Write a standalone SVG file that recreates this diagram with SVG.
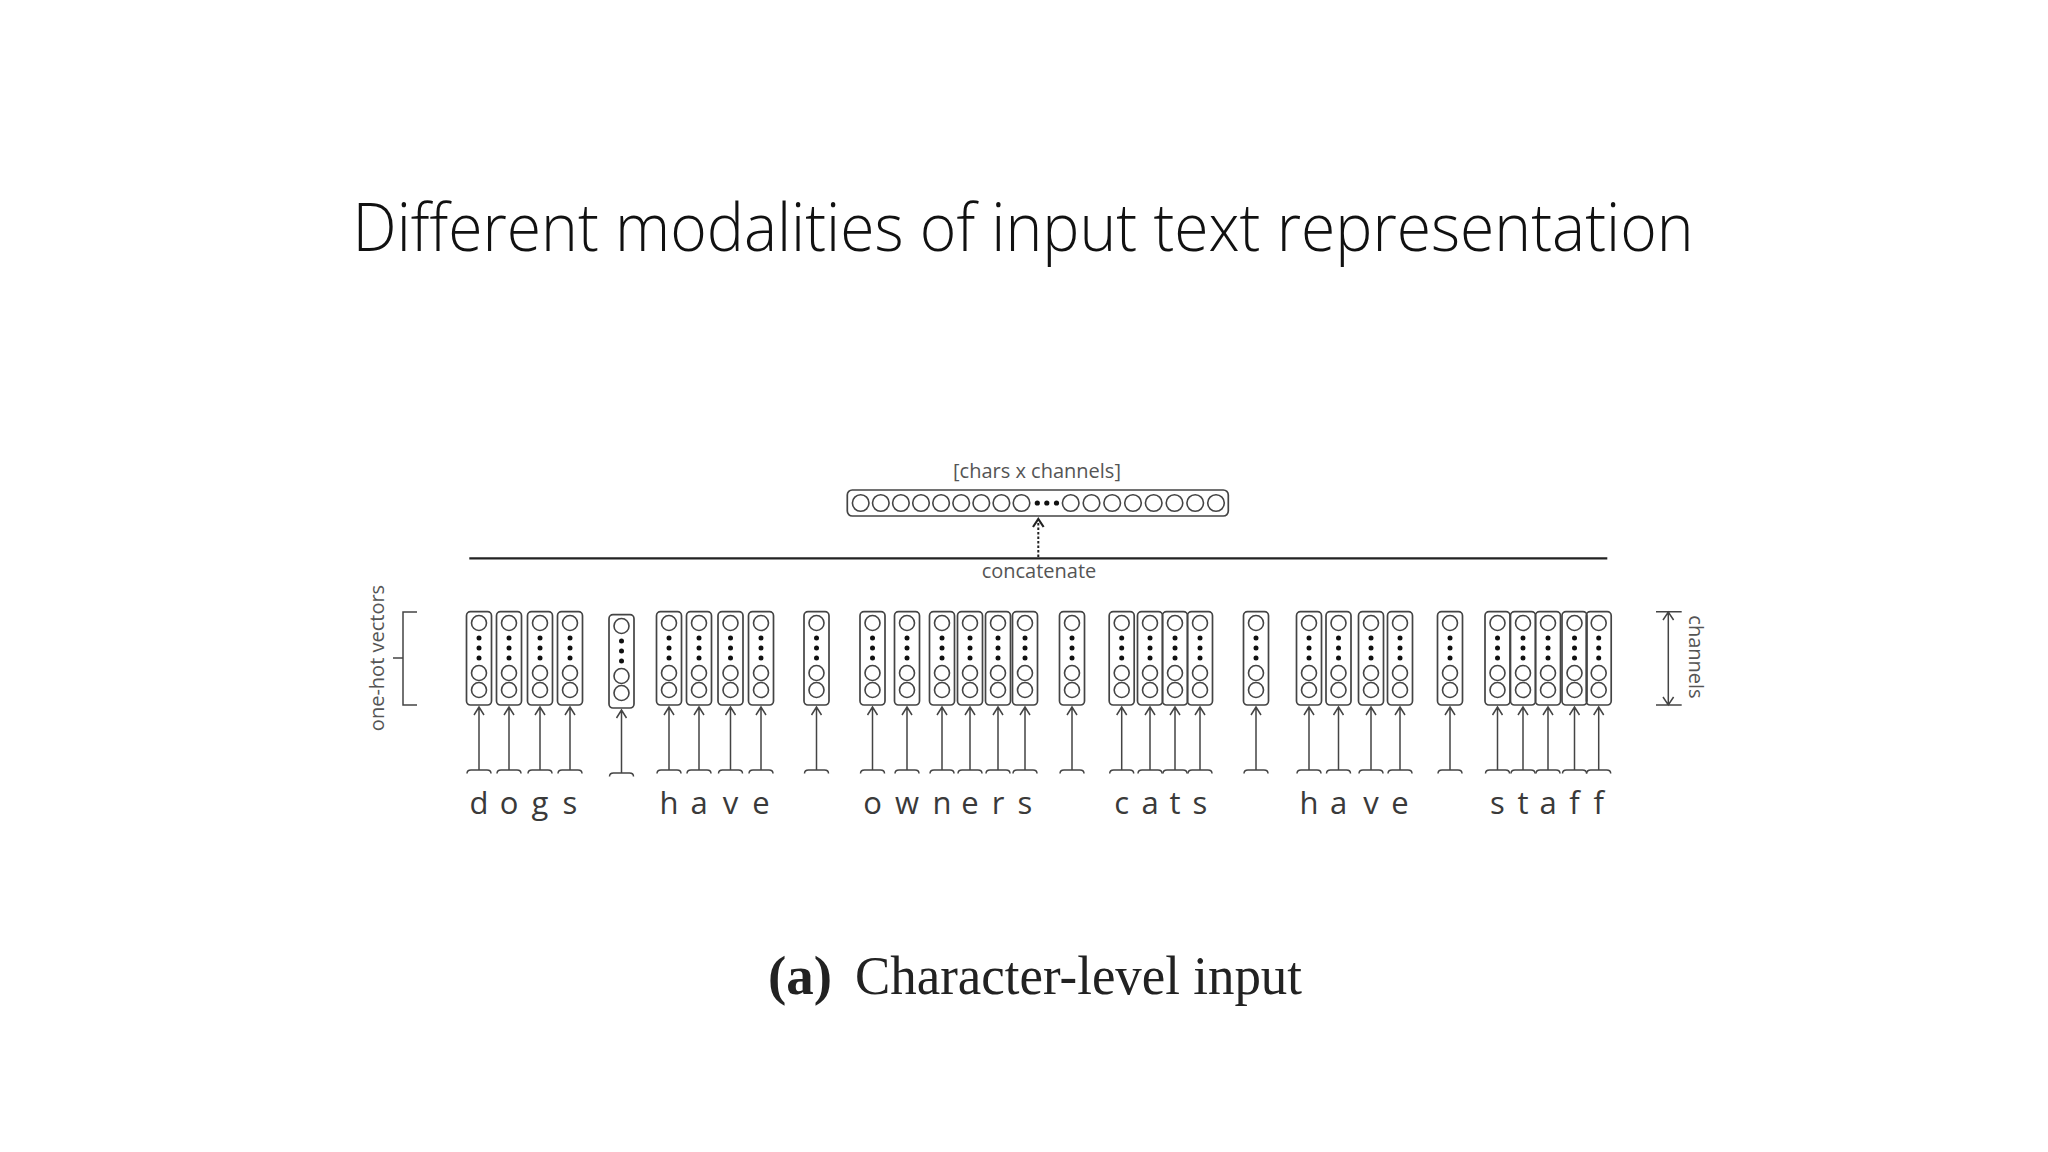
<svg xmlns="http://www.w3.org/2000/svg" xmlns:xlink="http://www.w3.org/1999/xlink" width="2048" height="1152" viewBox="0 0 2048 1152">
<style>
.box{fill:none;stroke:#444;stroke-width:1.7}
.circ{fill:#fff;stroke:#444;stroke-width:1.6}
.dot{fill:#111}
.ln{fill:none;stroke:#444;stroke-width:1.5}
.lbl{font-family:"Open Sans","Noto Sans","DejaVu Sans",sans-serif;font-size:20px;fill:#555}
.ch{font-family:"Open Sans","Noto Sans","DejaVu Sans",sans-serif;font-size:31px;fill:#3a3a3a;text-anchor:middle}
</style>
<defs>
<g id="vec">
<rect class="box" x="-12.5" y="611.7" width="25" height="93.3" rx="4"/>
<circle class="circ" cx="0" cy="623" r="7.5"/>
<circle class="dot" cx="0" cy="638" r="2.5"/>
<circle class="dot" cx="0" cy="648" r="2.5"/>
<circle class="dot" cx="0" cy="658" r="2.5"/>
<circle class="circ" cx="0" cy="673" r="7.5"/>
<circle class="circ" cx="0" cy="690" r="7.5"/>
</g>
<g id="inarrow">
<path class="ln" d="M0,770 V707 M-5,715 L0,707 L5,715"/>
<path class="ln" d="M-12,773.5 Q-12,770 -8,770 H8 Q12,770 12,773.5"/>
</g>
</defs>
<rect width="2048" height="1152" fill="#fff"/>
<text x="352.6" y="251" font-family="'Open Sans','Noto Sans','DejaVu Sans',sans-serif" font-weight="300" font-size="67" fill="#111" textLength="1341" lengthAdjust="spacingAndGlyphs">Different modalities of input text representation</text>

<g id="output">
<text class="lbl" x="1037" y="478" text-anchor="middle">[chars x channels]</text>
<rect class="box" x="847.3" y="490" width="381" height="26" rx="5"/>
<g class="circ">
<circle cx="860.7" cy="503" r="8.3"/><circle cx="880.8" cy="503" r="8.3"/><circle cx="900.9" cy="503" r="8.3"/><circle cx="921" cy="503" r="8.3"/><circle cx="941.1" cy="503" r="8.3"/><circle cx="961.2" cy="503" r="8.3"/><circle cx="981.3" cy="503" r="8.3"/><circle cx="1001.4" cy="503" r="8.3"/><circle cx="1021.5" cy="503" r="8.3"/>
<circle cx="1070.7" cy="503" r="8.3"/><circle cx="1091.5" cy="503" r="8.3"/><circle cx="1112.2" cy="503" r="8.3"/><circle cx="1133" cy="503" r="8.3"/><circle cx="1153.7" cy="503" r="8.3"/><circle cx="1174.5" cy="503" r="8.3"/><circle cx="1195.2" cy="503" r="8.3"/><circle cx="1216" cy="503" r="8.3"/>
</g>
<circle class="dot" cx="1037.3" cy="503" r="2.6"/><circle class="dot" cx="1046.8" cy="503" r="2.6"/><circle class="dot" cx="1056.5" cy="503" r="2.6"/>
</g>

<g id="concat">
<line x1="469.3" y1="558.3" x2="1607.3" y2="558.3" stroke="#222" stroke-width="2.2"/>
<text class="lbl" x="1039" y="577.7" text-anchor="middle">concatenate</text>
</g>

<g id="onehot-label">
<path class="ln" d="M417,612 H403 V705 H417 M403,658 H393"/>
<text class="lbl" transform="translate(384,658) rotate(-90)" text-anchor="middle">one-hot vectors</text>
</g>

<g id="channels-label">
<path class="ln" d="M1656,611.7 H1681.7 M1656,705 H1681.7 M1668.3,612 V705 M1663,620 L1668.3,612 L1673.6,620 M1663,697 L1668.3,705 L1673.6,697"/>
<text class="lbl" transform="translate(1689,657) rotate(90)" text-anchor="middle">channels</text>
</g>

<g id="vectors">
<g id="v-d"><use xlink:href="#vec" x="479"/></g>
<g id="v-o1"><use xlink:href="#vec" x="509"/></g>
<g id="v-g"><use xlink:href="#vec" x="540"/></g>
<g id="v-s1"><use xlink:href="#vec" x="570"/></g>
<g id="v-sp1"><use xlink:href="#vec" x="621.5" y="3"/></g>
<g id="v-h1"><use xlink:href="#vec" x="669"/></g>
<g id="v-a1"><use xlink:href="#vec" x="699"/></g>
<g id="v-v1"><use xlink:href="#vec" x="730.5"/></g>
<g id="v-e1"><use xlink:href="#vec" x="761"/></g>
<g id="v-sp2"><use xlink:href="#vec" x="816.5"/></g>
<g id="v-o2"><use xlink:href="#vec" x="872.5"/></g>
<g id="v-w"><use xlink:href="#vec" x="907"/></g>
<g id="v-n"><use xlink:href="#vec" x="942"/></g>
<g id="v-e2"><use xlink:href="#vec" x="970"/></g>
<g id="v-r"><use xlink:href="#vec" x="998"/></g>
<g id="v-s2"><use xlink:href="#vec" x="1025"/></g>
<g id="v-sp3"><use xlink:href="#vec" x="1072"/></g>
<g id="v-c"><use xlink:href="#vec" x="1121.7"/></g>
<g id="v-a2"><use xlink:href="#vec" x="1150"/></g>
<g id="v-t1"><use xlink:href="#vec" x="1175"/></g>
<g id="v-s3"><use xlink:href="#vec" x="1200"/></g>
<g id="v-sp4"><use xlink:href="#vec" x="1256"/></g>
<g id="v-h2"><use xlink:href="#vec" x="1309"/></g>
<g id="v-a3"><use xlink:href="#vec" x="1338.5"/></g>
<g id="v-v2"><use xlink:href="#vec" x="1371"/></g>
<g id="v-e3"><use xlink:href="#vec" x="1400"/></g>
<g id="v-sp5"><use xlink:href="#vec" x="1450"/></g>
<g id="v-s4"><use xlink:href="#vec" x="1497.5"/></g>
<g id="v-t2"><use xlink:href="#vec" x="1523"/></g>
<g id="v-a4"><use xlink:href="#vec" x="1548"/></g>
<g id="v-f1"><use xlink:href="#vec" x="1574.5"/></g>
<g id="v-f2"><use xlink:href="#vec" x="1598.7"/></g>
</g>

<g id="connectors">
<path d="M1038.3,557 V522" fill="none" stroke="#222" stroke-width="2" stroke-dasharray="2.5 2"/>
<path d="M1033,527 L1038.3,519 L1043.6,527" fill="none" stroke="#222" stroke-width="2.2"/>
<use xlink:href="#inarrow" x="479"/>
<use xlink:href="#inarrow" x="509"/>
<use xlink:href="#inarrow" x="540"/>
<use xlink:href="#inarrow" x="570"/>
<use xlink:href="#inarrow" x="621.5" y="3"/>
<use xlink:href="#inarrow" x="669"/>
<use xlink:href="#inarrow" x="699"/>
<use xlink:href="#inarrow" x="730.5"/>
<use xlink:href="#inarrow" x="761"/>
<use xlink:href="#inarrow" x="816.5"/>
<use xlink:href="#inarrow" x="872.5"/>
<use xlink:href="#inarrow" x="907"/>
<use xlink:href="#inarrow" x="942"/>
<use xlink:href="#inarrow" x="970"/>
<use xlink:href="#inarrow" x="998"/>
<use xlink:href="#inarrow" x="1025"/>
<use xlink:href="#inarrow" x="1072"/>
<use xlink:href="#inarrow" x="1121.7"/>
<use xlink:href="#inarrow" x="1150"/>
<use xlink:href="#inarrow" x="1175"/>
<use xlink:href="#inarrow" x="1200"/>
<use xlink:href="#inarrow" x="1256"/>
<use xlink:href="#inarrow" x="1309"/>
<use xlink:href="#inarrow" x="1338.5"/>
<use xlink:href="#inarrow" x="1371"/>
<use xlink:href="#inarrow" x="1400"/>
<use xlink:href="#inarrow" x="1450"/>
<use xlink:href="#inarrow" x="1497.5"/>
<use xlink:href="#inarrow" x="1523"/>
<use xlink:href="#inarrow" x="1548"/>
<use xlink:href="#inarrow" x="1574.5"/>
<use xlink:href="#inarrow" x="1598.7"/>
</g>

<g id="chars">
<text class="ch" x="479" y="814">d</text>
<text class="ch" x="509" y="814">o</text>
<text class="ch" x="540" y="814">g</text>
<text class="ch" x="570" y="814">s</text>
<text class="ch" x="669" y="814">h</text>
<text class="ch" x="699" y="814">a</text>
<text class="ch" x="730.5" y="814">v</text>
<text class="ch" x="761" y="814">e</text>
<text class="ch" x="872.5" y="814">o</text>
<text class="ch" x="907" y="814">w</text>
<text class="ch" x="942" y="814">n</text>
<text class="ch" x="970" y="814">e</text>
<text class="ch" x="998" y="814">r</text>
<text class="ch" x="1025" y="814">s</text>
<text class="ch" x="1121.7" y="814">c</text>
<text class="ch" x="1150" y="814">a</text>
<text class="ch" x="1175" y="814">t</text>
<text class="ch" x="1200" y="814">s</text>
<text class="ch" x="1309" y="814">h</text>
<text class="ch" x="1338.5" y="814">a</text>
<text class="ch" x="1371" y="814">v</text>
<text class="ch" x="1400" y="814">e</text>
<text class="ch" x="1497.5" y="814">s</text>
<text class="ch" x="1523" y="814">t</text>
<text class="ch" x="1548" y="814">a</text>
<text class="ch" x="1574.5" y="814">f</text>
<text class="ch" x="1598.7" y="814">f</text>
</g>

<g id="caption" font-family="'Liberation Serif','DejaVu Serif',serif" font-size="54" fill="#222">
<text x="768" y="994" font-weight="bold" textLength="64" lengthAdjust="spacingAndGlyphs">(a)</text>
<text x="855" y="994" textLength="447" lengthAdjust="spacingAndGlyphs">Character-level input</text>
</g>
</svg>
